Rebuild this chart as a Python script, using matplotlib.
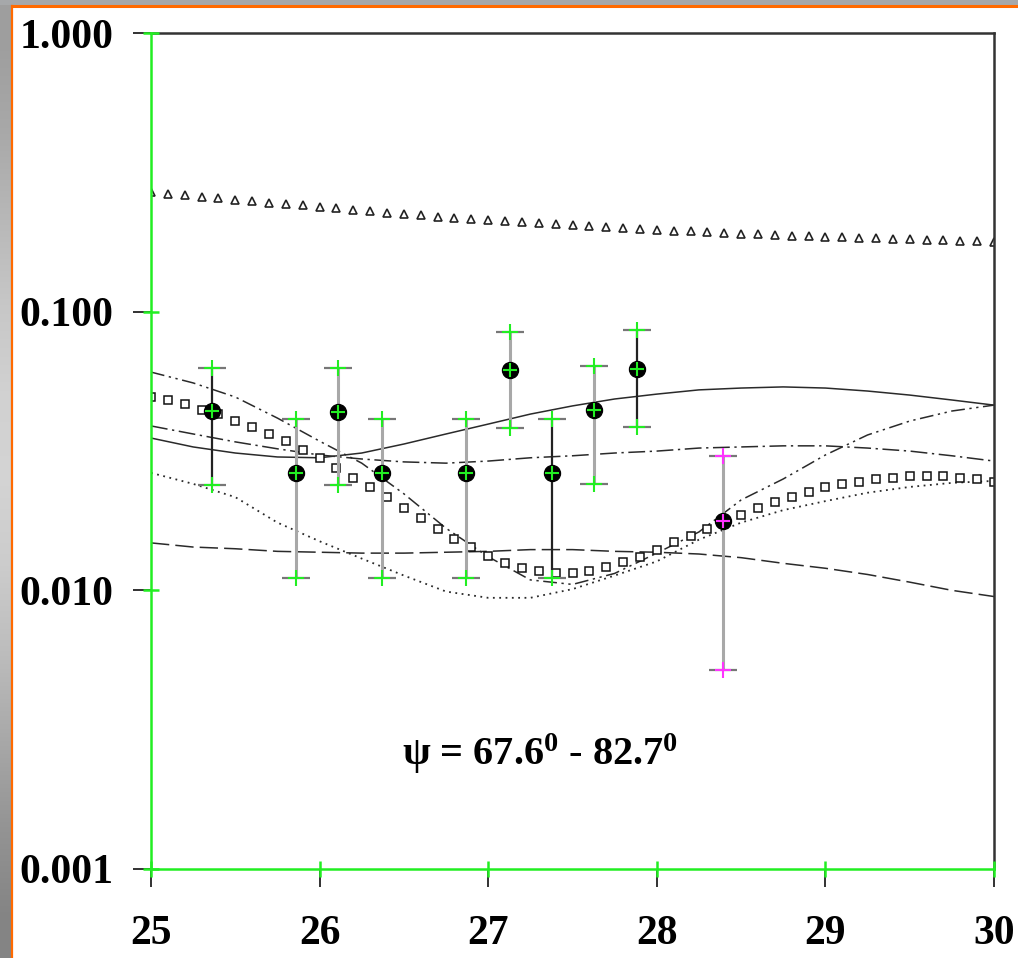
import numpy as np
import matplotlib
matplotlib.use("Agg")
import matplotlib.pyplot as plt
from matplotlib.ticker import NullLocator
from matplotlib.patches import Rectangle
from matplotlib.lines import Line2D

plt.rcParams['font.family'] = ['Liberation Serif', 'DejaVu Serif']
plt.rcParams['font.weight'] = 'bold'
plt.rcParams['mathtext.fontset'] = 'custom'
plt.rcParams['mathtext.rm'] = 'Liberation Serif:bold'
plt.rcParams['mathtext.it'] = 'Liberation Serif:bold'
plt.rcParams['mathtext.bf'] = 'Liberation Serif:bold'

# ---------------- data ----------------
# model curves, sampled every 0.25
x_curve = [25.0, 25.25, 25.5, 25.75, 26.0, 26.25, 26.5, 26.75, 27.0, 27.25, 27.5,
           27.75, 28.0, 28.25, 28.5, 28.75, 29.0, 29.25, 29.5, 29.75, 30.0]
solid = [0.0352, 0.0327, 0.0311, 0.0301, 0.0299, 0.0311, 0.0335, 0.0364, 0.0395, 0.0429, 0.0459,
         0.0486, 0.0506, 0.0524, 0.0532, 0.0537, 0.0532, 0.0519, 0.0502, 0.0482, 0.0462]
dashdot = [0.0389, 0.0364, 0.0341, 0.0322, 0.0306, 0.0296, 0.0289, 0.0286, 0.0291, 0.0299, 0.0304,
           0.0311, 0.0316, 0.0324, 0.0327, 0.0330, 0.0330, 0.0324, 0.0316, 0.0304, 0.0291]
dashdotdot = [0.0607, 0.0555, 0.0494, 0.0415, 0.0343, 0.0286, 0.0222, 0.0167, 0.0132, 0.0109, 0.0105,
              0.0115, 0.0136, 0.0162, 0.0211, 0.0251, 0.0306, 0.0361, 0.0405, 0.0440, 0.0462]
dotted = [0.0264, 0.0241, 0.0216, 0.0175, 0.0150, 0.0130, 0.0113, 0.0099, 0.0094, 0.0094, 0.0101,
          0.0113, 0.0127, 0.0152, 0.0175, 0.0194, 0.0209, 0.0224, 0.0235, 0.0243, 0.0247]
dashed = [0.0148, 0.0143, 0.0141, 0.0138, 0.0137, 0.0136, 0.0136, 0.0137, 0.0138, 0.0140, 0.0140,
          0.0138, 0.0137, 0.0135, 0.0131, 0.0125, 0.0120, 0.0114, 0.0107, 0.0100, 0.0095]

# symbol series, sampled every 0.1
x_sym = [25.0, 25.1, 25.2, 25.3, 25.4, 25.5, 25.6, 25.7, 25.8, 25.9,
         26.0, 26.1, 26.2, 26.3, 26.4, 26.5, 26.6, 26.7, 26.8, 26.9,
         27.0, 27.1, 27.2, 27.3, 27.4, 27.5, 27.6, 27.7, 27.8, 27.9,
         28.0, 28.1, 28.2, 28.3, 28.4, 28.5, 28.6, 28.7, 28.8, 28.9,
         29.0, 29.1, 29.2, 29.3, 29.4, 29.5, 29.6, 29.7, 29.8, 29.9, 30.0]
squares = [0.0494, 0.0482, 0.0466, 0.0444, 0.0429, 0.0405, 0.0386, 0.0364, 0.0343, 0.0319,
           0.0299, 0.0275, 0.0253, 0.0235, 0.0216, 0.0198, 0.0182, 0.0166, 0.0153, 0.0143,
           0.0133, 0.0125, 0.0120, 0.0117, 0.0115, 0.0115, 0.0117, 0.0121, 0.0126, 0.0132,
           0.0140, 0.0149, 0.0157, 0.0166, 0.0176, 0.0186, 0.0198, 0.0208, 0.0216, 0.0225,
           0.0235, 0.0241, 0.0245, 0.0251, 0.0253, 0.0257, 0.0257, 0.0257, 0.0253, 0.0251, 0.0245]
triangles = [0.269, 0.264, 0.262, 0.258, 0.256, 0.252, 0.249, 0.246, 0.243, 0.241,
             0.238, 0.236, 0.232, 0.230, 0.226, 0.224, 0.222, 0.219, 0.217, 0.215,
             0.213, 0.212, 0.210, 0.208, 0.206, 0.205, 0.203, 0.201, 0.200, 0.198,
             0.196, 0.195, 0.195, 0.193, 0.192, 0.190, 0.190, 0.188, 0.187, 0.187,
             0.185, 0.185, 0.184, 0.184, 0.182, 0.182, 0.181, 0.181, 0.179, 0.179, 0.178]

# measured points with error bars
x_pts = [25.36, 25.86, 26.11, 26.37, 26.87, 27.13, 27.38, 27.63, 27.88, 28.39]
y_pts = [0.0440, 0.0264, 0.0438, 0.0264, 0.0264, 0.0617, 0.0264, 0.0443, 0.0621, 0.0177]
y_lo = [0.0239, 0.0111, 0.0239, 0.0111, 0.0111, 0.0383, 0.0111, 0.0241, 0.0385, 0.00518]
y_hi = [0.0628, 0.0412, 0.0628, 0.0412, 0.0412, 0.0845, 0.0412, 0.0636, 0.0858, 0.0303]

x_ticks = [25, 26, 27, 28, 29, 30]
y_ticks = [0.001, 0.01, 0.1, 1.0]
y_ticklabels = ['0.001', '0.010', '0.100', '1.000']
label_text = 'ψ = 67.6$^0$ - 82.7$^0$'

# styles
bar_colors = ['#222222', '#a8a8a8', '#a8a8a8', '#a8a8a8', '#a8a8a8',
              '#a8a8a8', '#222222', '#a8a8a8', '#222222', '#a8a8a8']
cap_colors = ['#22ee22'] * 9 + ['#ff33ff']

W, H = 1018, 958
fig = plt.figure(figsize=(W / 100, H / 100), dpi=100)
fig.patch.set_facecolor('white')

# slide decoration: gray strips and orange frame
gax = fig.add_axes([0, 0, 11 / W, 1])
grad = np.array([0.62, 0.66, 0.72, 0.78, 0.82, 0.83, 0.80, 0.74, 0.66, 0.58, 0.52])
gax.imshow(grad[:, None, None] * np.ones((1, 1, 3)), aspect='auto', extent=[0, 1, 0, 1],
           interpolation='bilinear')
gax.set_axis_off()
fig.add_artist(Rectangle((0, 1 - 5 / H), 1, 5 / H, transform=fig.transFigure,
                         facecolor='#a6a8aa', edgecolor='none'))
fig.add_artist(Line2D([12 / W, 12 / W], [0, 1 - 5.5 / H], transform=fig.transFigure,
                      color='#ff6a00', lw=1.6))
fig.add_artist(Line2D([12 / W, 1], [1 - 5.5 / H, 1 - 5.5 / H], transform=fig.transFigure,
                      color='#ff6a00', lw=2.2))

ax = fig.add_axes([151 / W, 89 / H, 843 / W, 836 / H])
ax.set_yscale('log')
ax.set_xlim(25, 30)
ax.set_ylim(0.001, 1)

lc = '#2a2a2a'
ax.plot(x_curve, solid, color=lc, lw=1.1)
ax.plot(x_curve, dashdot, color=lc, lw=1.1, dashes=(11, 3, 1.5, 3))
ax.plot(x_curve, dashdotdot, color=lc, lw=1.1, dashes=(9, 3, 1.5, 3, 1.5, 3))
ax.plot(x_curve, dotted, color=lc, lw=1.3, dashes=(1, 2.5))
ax.plot(x_curve, dashed, color=lc, lw=1.1, dashes=(12, 4))

ax.plot(x_sym, squares, 's', ms=5.5, mfc='white', mec='#111111', mew=1.1, ls='none')
ax.plot(x_sym, triangles, '^', ms=5.2, mfc='white', mec='#222222', mew=1.2, ls='none')

for i in range(len(x_pts)):
    ax.vlines(x_pts[i], y_lo[i], y_hi[i], color=bar_colors[i],
              lw=2.2 if bar_colors[i] != '#222222' else 1.6, zorder=3)
    ax.plot([x_pts[i], x_pts[i]], [y_lo[i], y_hi[i]], '_', ms=20, mew=1.6,
            color='#777777', zorder=4)
    ax.plot([x_pts[i], x_pts[i]], [y_lo[i], y_hi[i]], '+', ms=11, mew=1.5,
            color=cap_colors[i], zorder=5)
ax.plot(x_pts, y_pts, 'o', ms=11.5, color='black', ls='none', zorder=6)
ax.plot(x_pts, y_pts, '+', ms=10, mew=1.5, ls='none', color=cap_colors[0], zorder=7)
ax.plot(x_pts[-1:], y_pts[-1:], '+', ms=10, mew=1.5, ls='none', color=cap_colors[-1], zorder=7)

ax.text(27.31, 0.00236, label_text, ha='center', va='baseline', fontsize=29,
        fontweight='bold')

# axes frame
for side in ['left', 'bottom']:
    ax.spines[side].set_color('#22ee22')
    ax.spines[side].set_linewidth(1.8)
    ax.spines[side].set_zorder(8)
for side in ['top', 'right']:
    ax.spines[side].set_color('#333333')
    ax.spines[side].set_linewidth(1.8)

ax.set_xticks(x_ticks)
ax.set_xticklabels([str(t) for t in x_ticks])
ax.set_yticks(y_ticks)
ax.set_yticklabels(y_ticklabels)
ax.yaxis.set_minor_locator(NullLocator())
ax.tick_params(axis='both', direction='out', length=13, width=1.3, color='#222222',
               labelsize=30)
ax.tick_params(axis='x', pad=20)
ax.tick_params(axis='y', pad=14)
for lab in ax.get_xticklabels() + ax.get_yticklabels():
    lab.set_fontweight('bold')

# green inner tick marks
ax.plot([25] * len(y_ticks), y_ticks, '_', ms=11, mew=1.8, color='#22ee22',
        clip_on=False, zorder=9)
ax.plot(x_ticks, [0.001] * len(x_ticks), '|', ms=11, mew=1.8, color='#22ee22',
        clip_on=False, zorder=9)

fig.savefig('out.png', dpi=100)
